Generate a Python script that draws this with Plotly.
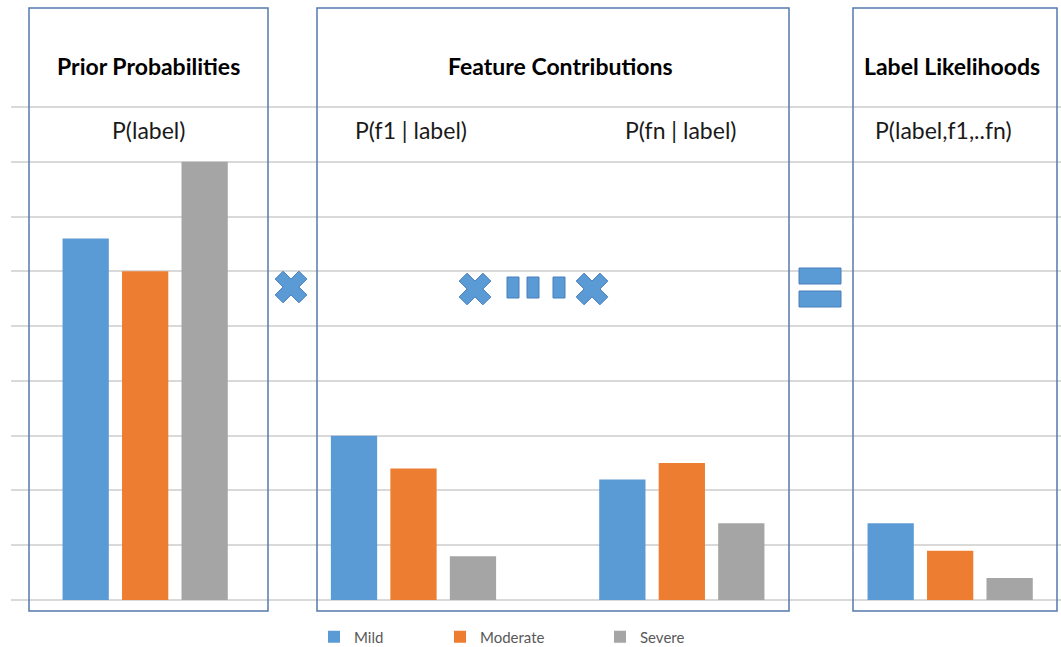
import plotly.graph_objects as go

# Groups along the x axis (one slot per stage of the Naive Bayes product)
groups = ["Prior", "Feature 1", "Feature n", "Likelihood"]
series_names = ["Mild", "Moderate", "Severe"]
mild = [6.6, 3.0, 2.2, 1.4]
moderate = [6.0, 2.4, 2.5, 0.9]
severe = [8.0, 0.8, 1.4, 0.4]
colors = ["#5b9bd5", "#ed7d31", "#a5a5a5"]

panel_titles = ["Prior Probabilities", "Feature Contributions", "Label Likelihoods"]
sub_labels = ["P(label)", "P(f1 | label)", "P(fn | label)", "P(label,f1,..fn)"]

# Page geometry (pixels)
W, H = 1061, 647
L, R, B = 11, 0, 47
base_y = H - B                     # pixel row of the zero line
unit_x = 268.33                    # pixels per group slot
unit_y = 493 / 9                   # pixels per y unit
x_lo = -0.5
x_hi = x_lo + (W - L - R) / unit_x
y_top = 9.1                        # a little headroom so the top gridline is kept
T = int(round(base_y - y_top * unit_y))
plot_w = W - L - R
plot_h = H - T - B
y_top = plot_h / unit_y


def px_x(px):
    return (px - L) / plot_w


def px_y(py):
    return (base_y - py) / plot_h


def dx(px):
    return (px - L) / unit_x + x_lo


def dy(py):
    return (base_y - py) / unit_y


xs = list(range(len(groups)))
fig = go.Figure()
legend_ids = ["legend", "legend2", "legend3"]
for name, vals, col, lg in zip(series_names, [mild, moderate, severe], colors, legend_ids):
    fig.add_trace(go.Bar(x=xs, y=vals, name=name, marker=dict(color=col, line=dict(width=0)),
                         legend=lg, hoverinfo="skip"))

# Operator symbols between the panels
blue = "#5b9bd5"
edge = "#4a7ebb"
op_x = [291, 475, 592]
op_y = [287, 289, 289]
fig.add_trace(go.Scatter(
    x=[dx(v) for v in op_x], y=[dy(v) for v in op_y], mode="markers",
    marker=dict(symbol="x", size=28, color=blue, line=dict(color=edge, width=1)),
    showlegend=False, hoverinfo="skip", cliponaxis=False))

shapes = []
# Dashes between the two feature multipliers
for x0, x1 in [(507, 519), (527, 539), (553, 565)]:
    shapes.append(dict(type="rect", xref="paper", yref="paper",
                       x0=px_x(x0), x1=px_x(x1), y0=px_y(298), y1=px_y(277),
                       fillcolor=blue, line=dict(color=edge, width=1), layer="above"))
# Equals sign
for y0, y1 in [(268, 284), (291, 307)]:
    shapes.append(dict(type="rect", xref="paper", yref="paper",
                       x0=px_x(799), x1=px_x(841), y0=px_y(y1), y1=px_y(y0),
                       fillcolor=blue, line=dict(color=edge, width=1), layer="above"))
# Panel frames
box_col = "#5479ad"
for x0, x1 in [(29, 268), (317, 789), (853, 1057)]:
    shapes.append(dict(type="rect", xref="paper", yref="paper",
                       x0=px_x(x0), x1=px_x(x1), y0=px_y(611), y1=px_y(8),
                       line=dict(color=box_col, width=1.5), fillcolor="rgba(0,0,0,0)",
                       layer="above"))

annotations = []
font_title = dict(family="Lato, Carlito, Calibri, sans-serif", size=23, color="#000000")
font_sub = dict(family="Lato, Carlito, Calibri, sans-serif", size=23, color="#1a1a1a")
for text, cx in zip(panel_titles, [148, 560, 952]):
    annotations.append(dict(text="<b>" + text + "</b>", x=px_x(cx), y=px_y(66),
                            xref="paper", yref="paper", showarrow=False,
                            xanchor="center", yanchor="middle", font=font_title))
for text, cx in zip(sub_labels, [148, 411, 680, 943]):
    annotations.append(dict(text=text, x=px_x(cx), y=px_y(130),
                            xref="paper", yref="paper", showarrow=False,
                            xanchor="center", yanchor="middle", font=font_sub))

legend_font = dict(family="Lato, Carlito, Calibri, sans-serif", size=15, color="#595959")
legend_common = dict(orientation="h", yanchor="middle", xanchor="left",
                     bgcolor="rgba(0,0,0,0)", borderwidth=0, font=legend_font,
                     itemwidth=30)

fig.update_layout(
    width=W, height=H,
    margin=dict(l=L, r=R, t=T, b=B, autoexpand=False),
    paper_bgcolor="white", plot_bgcolor="white",
    barmode="group", bargap=0.335, bargroupgap=0.222,
    xaxis=dict(range=[x_lo, x_hi], showticklabels=False, showgrid=False,
               zeroline=False, showline=False, ticks="", fixedrange=True),
    yaxis=dict(range=[0, y_top], dtick=1, showticklabels=False, showgrid=True,
               gridcolor="#d9d9d9", gridwidth=1.5, zeroline=True,
               zerolinecolor="#d9d9d9", zerolinewidth=1.5, showline=False,
               ticks="", fixedrange=True),
    legend=dict(x=px_x(314), y=px_y(637), **legend_common),
    legend2=dict(x=px_x(440), y=px_y(637), **legend_common),
    legend3=dict(x=px_x(600), y=px_y(637), **legend_common),
    shapes=shapes,
    annotations=annotations,
)

fig.write_html("out.html")
